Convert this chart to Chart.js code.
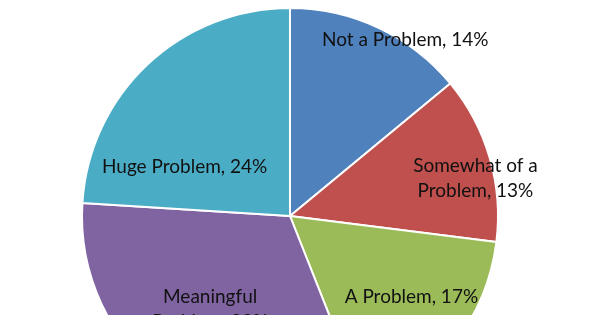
<!DOCTYPE html>
<html>
<head>
<meta charset="utf-8">
<script src="https://cdn.jsdelivr.net/npm/chart.js@4.4.0/dist/chart.umd.min.js"></script>
<style>
  html, body {
    margin: 0;
    padding: 0;
    width: 600px;
    height: 315px;
    overflow: hidden;
    background: #ffffff;
  }
  #wrap {
    position: absolute;
    left: 0;
    top: 0;
    width: 600px;
    height: 440px;
  }
</style>
</head>
<body>
<div id="wrap"><canvas id="pieChart" width="600" height="440"></canvas></div>
<script>
// Data
const categories = [
  "Not a Problem",
  "Somewhat of a Problem",
  "A Problem",
  "Meaningful Problem",
  "Huge Problem",
];
const shares = [14, 13, 17, 32, 24];

const sliceColors = ["#4F81BD", "#C0504D", "#9BBB59", "#8064A2", "#4BACC6"];

// Where each label sits inside its slice: fraction along the slice angle,
// fraction of the radius, and max line width before wrapping
const labelPlacement = [
  { along: 0.66, radius: 1.01, wrap: 220 },
  { along: 0.6, radius: 0.91, wrap: 140 },
  { along: 0.43, radius: 0.7, wrap: 220 },
  { along: 0.54, radius: 0.59, wrap: 120 },
  { along: 0.25, radius: 0.56, wrap: 220 },
];

// Draws "Name, NN%" labels inside the slices, wrapping long ones
const sliceLabels = {
  id: "sliceLabels",
  afterDraw(chart) {
    const ctx = chart.ctx;
    const arcs = chart.getDatasetMeta(0).data;
    ctx.save();
    ctx.font = "19px Lato";
    ctx.fillStyle = "#111111";
    ctx.textAlign = "center";
    ctx.textBaseline = "middle";
    const lineHeight = 25;

    arcs.forEach((arc, i) => {
      const p = labelPlacement[i];
      const a = arc.startAngle + (arc.endAngle - arc.startAngle) * p.along;
      const r = arc.outerRadius * p.radius;
      const x = arc.x + Math.cos(a) * r;
      const y = arc.y + Math.sin(a) * r;

      const text = categories[i] + ", " + shares[i] + "%";
      const words = text.split(" ");
      let lines = [];
      let current = "";
      words.forEach((w) => {
        const trial = current ? current + " " + w : w;
        if (current && ctx.measureText(trial).width > p.wrap) {
          lines.push(current);
          current = w;
        } else {
          current = trial;
        }
      });
      lines.push(current);

      const top = y - ((lines.length - 1) * lineHeight) / 2;
      lines.forEach((line, j) => {
        ctx.fillText(line, x, top + j * lineHeight);
      });
    });
    ctx.restore();
  },
};

const ctx = document.getElementById("pieChart").getContext("2d");
new Chart(ctx, {
  type: "pie",
  data: {
    labels: categories,
    datasets: [
      {
        data: shares,
        backgroundColor: sliceColors,
        borderColor: "#ffffff",
        borderWidth: 2,
      },
    ],
  },
  options: {
    responsive: false,
    animation: false,
    layout: {
      padding: { left: 81, right: 101, top: 7, bottom: 15 },
    },
    plugins: {
      legend: { display: false },
      tooltip: { enabled: false },
    },
  },
  plugins: [sliceLabels],
});
</script>
</body>
</html>
